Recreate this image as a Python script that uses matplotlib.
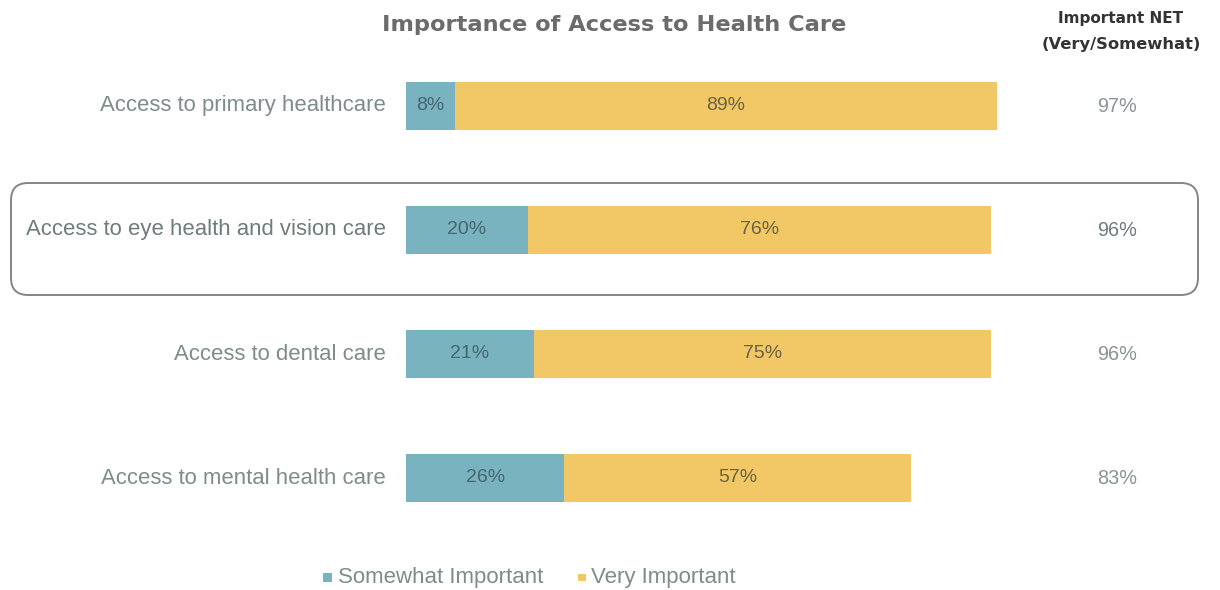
import matplotlib
matplotlib.use("Agg")
import matplotlib.pyplot as plt
from matplotlib.patches import FancyBboxPatch, Rectangle

categories = ["Access to primary healthcare", "Access to eye health and vision care",
              "Access to dental care", "Access to mental health care"]
somewhat = [8, 20, 21, 26]
very = [89, 76, 75, 57]
net = [97, 96, 96, 83]
series_names = ["Somewhat Important", "Very Important"]

c_some = "#7AB3C0"
c_very = "#F1C865"
label_col = "#7E8C8C"

fig = plt.figure(figsize=(12.2, 5.9), dpi=100)
ax = fig.add_axes([406/1220, 1-540/590, 609/1220, 496/590])
y = list(range(len(categories)))
ax.barh(y, somewhat, height=0.39, color=c_some, label=series_names[0])
ax.barh(y, very, left=somewhat, height=0.39, color=c_very, label=series_names[1])
ax.set_xlim(0, 100)
ax.set_ylim(3.5, -0.5)
ax.axis("off")

for i in y:
    ax.text(somewhat[i]/2, i, f"{somewhat[i]}%", ha="center", va="center",
            fontsize=14, color="#44666F", family="Liberation Sans")
    ax.text(somewhat[i] + very[i]/2, i, f"{very[i]}%", ha="center", va="center",
            fontsize=14, color="#6A6242", family="Liberation Sans")
    ax.text(-3.3, i, categories[i], ha="right", va="center", fontsize=15.9,
            color=label_col if i != 1 else "#6E7C7C", family="Liberation Sans")
    ax.text(116.8, i, f"{net[i]}%", ha="center", va="center", fontsize=14.3,
            color="#8A9494" if i != 1 else "#6E7C7C", family="Liberation Sans")

# highlight box
box = FancyBboxPatch((11/1220, 1-295/590), 1187/1220, 112/590,
                     boxstyle="round,pad=0,rounding_size=0.014",
                     transform=fig.transFigure, facecolor="none",
                     edgecolor="#858585", linewidth=1.4, mutation_aspect=2.07)
fig.patches.append(box)

fig.text(614/1220, 1-25/590, "Importance of Access to Health Care", ha="center",
         va="center", fontsize=16.2, fontweight="bold", color="#6B6B6B", family="DejaVu Sans")
fig.text(1121/1220, 1-18/590, "Important NET", ha="center",
         va="center", fontsize=11, fontweight="bold", color="#333333", family="DejaVu Sans")
fig.text(1121/1220, 1-45/590, "(Very/Somewhat)", ha="center",
         va="center", fontsize=11.8, fontweight="bold", color="#333333", family="DejaVu Sans")

# legend
fig.patches.append(Rectangle((323/1220, 1-582/590), 9/1220, 9/590, transform=fig.transFigure,
                             facecolor=c_some, edgecolor="none"))
fig.text(338/1220, 1-577/590, series_names[0], ha="left", va="center", fontsize=16,
         color="#7E8C8C", family="Liberation Sans")
fig.patches.append(Rectangle((578/1220, 1-581/590), 8/1220, 7/590, transform=fig.transFigure,
                             facecolor=c_very, edgecolor="none"))
fig.text(591/1220, 1-577/590, series_names[1], ha="left", va="center", fontsize=16,
         color="#7E8C8C", family="Liberation Sans")

fig.savefig("out.png", dpi=100, facecolor="white")
